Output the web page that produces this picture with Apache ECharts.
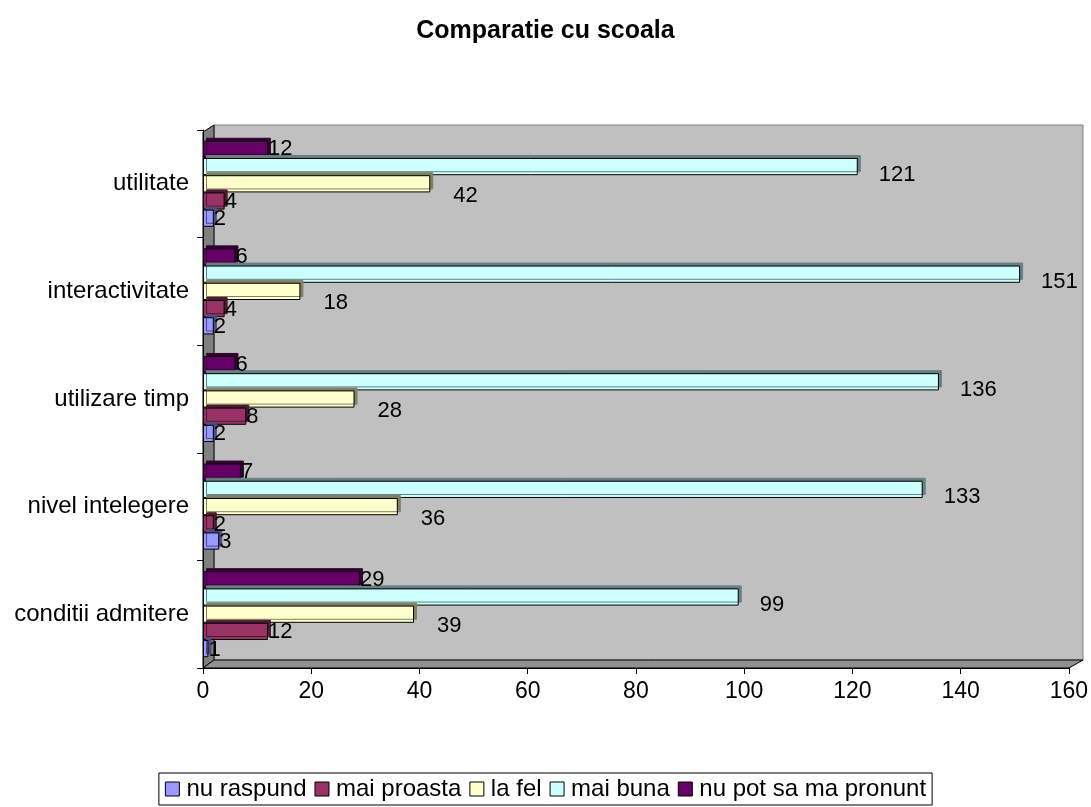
<!DOCTYPE html>
<html>
<head>
<meta charset="utf-8">
<script src="https://cdn.jsdelivr.net/npm/echarts@6/dist/echarts.min.js"></script>
<style>
html,body{margin:0;padding:0;background:#fff;}
#chart{width:1091px;height:807px;}
</style>
</head>
<body>
<div id="chart"></div>
<script>
const categories = ['conditii admitere', 'nivel intelegere', 'utilizare timp', 'interactivitate', 'utilitate'];
const seriesNames = ['nu raspund', 'mai proasta', 'la fel', 'mai buna', 'nu pot sa ma pronunt'];
const nuRaspund = [1, 3, 2, 2, 2];
const maiProasta = [12, 2, 8, 4, 4];
const laFel = [39, 36, 28, 18, 42];
const maiBuna = [99, 133, 136, 151, 121];
const nuPot = [29, 7, 6, 6, 12];
const xTicks = [0, 20, 40, 60, 80, 100, 120, 140, 160];

const values = [nuRaspund, maiProasta, laFel, maiBuna, nuPot];
const colors = ['#9999ff', '#993366', '#ffffcc', '#ccffff', '#660066'];
const sideColors = ['#4d4d80', '#4d1a33', '#808066', '#668080', '#330033'];
const labelOffsets = [[-5, 1], [-5, 1], [18, 12], [16, 8], [-5, 0]];

const FONT = '"Liberation Sans", Arial, sans-serif';

const chart = echarts.init(document.getElementById('chart'));
// ECharts draws horizontal bar series top-to-bottom; the reference has the first series at the bottom
const order = [4, 3, 2, 1, 0];
const series = order.map(i => ({
  name: seriesNames[i],
  type: 'bar',
  data: values[i],
  barGap: '0%',
  barCategoryGap: '20%',
  itemStyle: {
    color: colors[i],
    borderColor: '#000',
    borderWidth: 1,
    shadowColor: sideColors[i],
    shadowOffsetX: 3,
    shadowOffsetY: -3,
    shadowBlur: 0
  },
  label: {
    show: true,
    position: 'right',
    offset: labelOffsets[i],
    color: '#000',
    fontSize: 22,
    fontFamily: FONT
  }
}));

chart.setOption({
  animation: false,
  backgroundColor: '#fff',
  title: {
    text: 'Comparatie cu scoala',
    left: 'center',
    top: 14,
    textStyle: { fontSize: 25, fontWeight: 'bold', color: '#000', fontFamily: FONT }
  },
  graphic: [
    { type: 'polygon', z: -10, shape: { points: [[214,125],[1083,125],[1083,660],[214,660]] },
      style: { fill: '#c0c0c0', stroke: '#808080', lineWidth: 1 } },
    { type: 'polygon', z: -10, shape: { points: [[203,132],[214,125],[214,660],[203,668]] },
      style: { fill: '#808080', stroke: '#000', lineWidth: 1 } },
    { type: 'polygon', z: -10, shape: { points: [[203,668],[214,660],[1083,660],[1069,668]] },
      style: { fill: '#909090', stroke: '#000', lineWidth: 1 } }
  ],
  legend: {
    bottom: 2,
    left: 'center',
    itemWidth: 14,
    itemHeight: 14,
    itemGap: 8,
    icon: 'rect',
    borderColor: '#000',
    borderWidth: 1,
    padding: [4, 6],
    textStyle: { fontSize: 24, color: '#000', fontFamily: FONT, padding: [0, 0, 0, 2] },
    itemStyle: { borderColor: '#000', borderWidth: 1, shadowBlur: 0, shadowOffsetX: 0, shadowOffsetY: 0 },
    data: seriesNames
  },
  grid: { left: 203, right: 22, top: 130, bottom: 139, containLabel: false },
  xAxis: {
    type: 'value',
    min: 0,
    max: 160,
    interval: 20,
    axisLine: { show: true, lineStyle: { color: '#000' } },
    axisTick: { show: true, length: 6, lineStyle: { color: '#000' } },
    splitLine: { show: false },
    axisLabel: {
      color: '#000', fontSize: 23, fontFamily: FONT, margin: 12,
      formatter: v => xTicks.includes(v) ? String(v) : ''
    }
  },
  yAxis: {
    type: 'category',
    data: categories,
    axisLine: { show: true, lineStyle: { color: '#000' } },
    axisTick: { show: true, length: 6, lineStyle: { color: '#000' } },
    axisLabel: { color: '#000', fontSize: 24, fontFamily: FONT, margin: 14 }
  },
  series: series
});
</script>
</body>
</html>
